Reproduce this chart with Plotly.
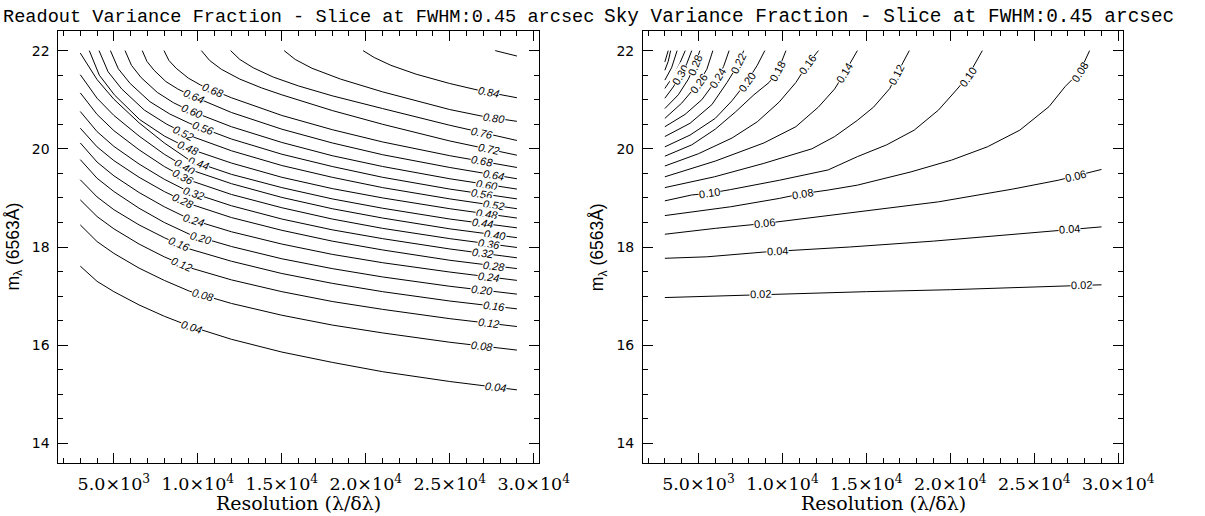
import math
import numpy as np
import plotly.graph_objects as go

# ---------------- axes ----------------
X_RANGE = [1700, 30300]
Y_RANGE = [13.6, 22.4]
X_TICKS = [5000, 10000, 15000, 20000, 25000, 30000]
X_TICKTEXT = ["5.0×10<sup>3</sup>", "1.0×10<sup>4</sup>", "1.5×10<sup>4</sup>",
              "2.0×10<sup>4</sup>", "2.5×10<sup>4</sup>", "3.0×10<sup>4</sup>"]
Y_TICKS = [14, 16, 18, 20, 22]
Y_TICKTEXT = ["14", "16", "18", "20", "22"]

TITLE_LEFT = "Readout Variance Fraction - Slice at FWHM:0.45 arcsec"
TITLE_RIGHT = "Sky Variance Fraction - Slice at FWHM:0.45 arcsec"
XTITLE = "Resolution (λ/δλ)"
YTITLE = "m<sub>λ</sub> (6563Å)"

# ---------------- readout variance fraction (left) ----------------
RO_X_EDGE = [3000, 4000, 5000, 6500, 8000, 9500, 12000, 15000, 18000, 21000, 25000, 29000]
RO_Y_004 = [17.61, 17.30, 17.09, 16.82, 16.59, 16.39, 16.12, 15.86, 15.65, 15.46, 15.26, 15.09]
RO_Y_008 = [18.45, 18.11, 17.87, 17.57, 17.32, 17.10, 16.85, 16.61, 16.41, 16.25, 16.06, 15.90]
RO_Y_012 = [18.96, 18.62, 18.37, 18.06, 17.80, 17.58, 17.33, 17.09, 16.89, 16.73, 16.54, 16.38]
RO_Y_016 = [19.37, 19.02, 18.76, 18.45, 18.19, 17.96, 17.71, 17.46, 17.26, 17.09, 16.90, 16.74]
RO_Y_020 = [19.78, 19.40, 19.13, 18.79, 18.50, 18.26, 18.01, 17.76, 17.56, 17.39, 17.20, 17.04]
RO_Y_024 = [20.12, 19.73, 19.45, 19.11, 18.82, 18.57, 18.31, 18.06, 17.85, 17.68, 17.49, 17.32]
RO_Y_028 = [20.42, 20.04, 19.76, 19.42, 19.13, 18.88, 18.60, 18.34, 18.12, 17.94, 17.73, 17.56]
RO_Y_032 = [20.76, 20.35, 20.05, 19.69, 19.38, 19.12, 18.84, 18.57, 18.35, 18.17, 17.96, 17.78]
RO_Y_036 = [21.14, 20.70, 20.37, 19.98, 19.64, 19.36, 19.07, 18.80, 18.57, 18.38, 18.17, 17.99]
RO_Y_040 = [21.51, 21.03, 20.68, 20.26, 19.89, 19.58, 19.29, 19.01, 18.78, 18.59, 18.37, 18.19]
RO_Y_044 = [21.95, 21.41, 21.01, 20.53, 20.12, 19.77, 19.48, 19.21, 18.98, 18.79, 18.57, 18.39]

RO_X_048 = [3537, 4133, 5028, 6519, 8009, 9500, 12000, 15000, 18000, 21000, 25000, 29000]
RO_Y_048 = [22.0, 21.50, 21.10, 20.60, 20.26, 20.00, 19.71, 19.42, 19.19, 19.00, 18.78, 18.59]
RO_X_052 = [4117, 4655, 5463, 6809, 8155, 9500, 12000, 15000, 18000, 21000, 25000, 29000]
RO_Y_052 = [22.0, 21.57, 21.22, 20.79, 20.50, 20.27, 19.96, 19.66, 19.42, 19.21, 18.98, 18.78]
RO_X_056 = [4794, 5265, 5971, 7147, 8324, 9500, 12000, 15000, 18000, 21000, 25000, 29000]
RO_Y_056 = [22.0, 21.63, 21.33, 20.96, 20.71, 20.52, 20.20, 19.89, 19.64, 19.42, 19.18, 18.98]
RO_X_060 = [5665, 6049, 6624, 7583, 8541, 9500, 12000, 15000, 18000, 21000, 25000, 29000]
RO_Y_060 = [22.0, 21.70, 21.45, 21.15, 20.94, 20.78, 20.45, 20.13, 19.86, 19.64, 19.39, 19.18]
RO_X_064 = [6690, 6971, 7393, 8095, 8798, 9500, 12000, 15000, 18000, 21000, 25000, 29000]
RO_Y_064 = [22.0, 21.78, 21.60, 21.37, 21.22, 21.10, 20.74, 20.40, 20.12, 19.88, 19.62, 19.39]
RO_X_068 = [7985, 8275, 8710, 9434, 10158, 10883, 12000, 15000, 18000, 21000, 25000, 29000]
RO_Y_068 = [22.0, 21.80, 21.64, 21.44, 21.30, 21.20, 21.04, 20.68, 20.39, 20.14, 19.86, 19.62]
RO_X_072 = [10210, 10700, 11400, 12500, 13800, 15000, 18000, 21000, 25000, 29000]
RO_Y_072 = [22.0, 21.80, 21.62, 21.42, 21.24, 21.10, 20.78, 20.50, 20.16, 19.87]
RO_X_076 = [11950, 12500, 13300, 14500, 16000, 18000, 21000, 25000, 29000]
RO_Y_076 = [22.0, 21.82, 21.65, 21.46, 21.28, 21.08, 20.82, 20.48, 20.17]
RO_X_080 = [15140, 15800, 16800, 18500, 21000, 25000, 27000, 29000]
RO_Y_080 = [22.0, 21.82, 21.64, 21.42, 21.16, 20.80, 20.66, 20.56]
RO_X_084 = [19840, 20500, 21500, 23000, 25000, 27000, 29000]
RO_Y_084 = [22.0, 21.86, 21.70, 21.52, 21.33, 21.17, 21.04]
RO_X_088 = [27706, 29000]
RO_Y_088 = [22.0, 21.89]

RO_LEVELS = [0.04, 0.08, 0.12, 0.16, 0.20, 0.24, 0.28, 0.32, 0.36, 0.40, 0.44,
             0.48, 0.52, 0.56, 0.60, 0.64, 0.68, 0.72, 0.76, 0.80, 0.84, 0.88]
RO_XS = [RO_X_EDGE] * 11 + [RO_X_048, RO_X_052, RO_X_056, RO_X_060, RO_X_064, RO_X_068,
                            RO_X_072, RO_X_076, RO_X_080, RO_X_084, RO_X_088]
RO_YS = [RO_Y_004, RO_Y_008, RO_Y_012, RO_Y_016, RO_Y_020, RO_Y_024, RO_Y_028, RO_Y_032,
         RO_Y_036, RO_Y_040, RO_Y_044, RO_Y_048, RO_Y_052, RO_Y_056, RO_Y_060, RO_Y_064,
         RO_Y_068, RO_Y_072, RO_Y_076, RO_Y_080, RO_Y_084, RO_Y_088]
# label positions (x) : middle and right-hand labels
RO_LABEL_MID = {0.68: 10883, 0.64: 9723, 0.60: 9630, 0.56: 10303, 0.52: 9143, 0.48: 9433,
                0.44: 10013, 0.40: 9241, 0.36: 9143, 0.32: 9723, 0.28: 9143, 0.24: 9723,
                0.20: 10210, 0.16: 8893, 0.12: 9009, 0.08: 10303, 0.04: 9647}
RO_LABEL_RIGHT = {0.84: 27322, 0.80: 27612, 0.76: 26934, 0.72: 27322, 0.68: 26934,
                  0.64: 27612, 0.60: 27224, 0.56: 26934, 0.52: 27612, 0.48: 27224,
                  0.44: 26934, 0.40: 27704, 0.36: 27322, 0.32: 26934, 0.28: 27612,
                  0.24: 27322, 0.20: 26934, 0.16: 27612, 0.12: 27322, 0.08: 26934,
                  0.04: 27704}

# ---------------- sky variance fraction (right) ----------------
SK_X_002 = [3000, 6000, 10000, 15000, 20000, 25000, 29000]
SK_Y_002 = [16.97, 17.00, 17.05, 17.09, 17.13, 17.19, 17.23]
SK_X_004 = [3000, 5500, 9000, 14000, 19000, 24000, 29000]
SK_Y_004 = [17.77, 17.80, 17.90, 18.00, 18.12, 18.27, 18.41]
SK_X_006 = [3000, 6000, 8950, 14462, 19294, 23713, 26422, 29000]
SK_Y_006 = [18.26, 18.38, 18.48, 18.72, 18.92, 19.18, 19.36, 19.58]
SK_X_008 = [3000, 6921, 9821, 11080, 12722, 14462, 17653, 20072, 22201, 24135, 25876, 26840, 27710, 28290]
SK_Y_008 = [18.64, 18.82, 18.99, 19.08, 19.16, 19.26, 19.53, 19.77, 20.04, 20.38, 20.86, 21.27, 21.57, 22.0]
SK_X_010 = [3000, 4600, 5568, 6921, 9821, 12722, 14462, 16202, 17846, 19294, 20361, 21034, 21904]
SK_Y_010 = [18.94, 19.06, 19.09, 19.17, 19.36, 19.57, 19.84, 20.08, 20.38, 20.79, 21.20, 21.47, 22.0]
SK_X_012 = [3000, 5954, 8854, 11754, 13111, 14462, 15429, 16396, 16782, 17556]
SK_Y_012 = [19.21, 19.43, 19.70, 20.00, 20.25, 20.58, 20.85, 21.23, 21.50, 22.0]
SK_X_014 = [3000, 6000, 8900, 10800, 12142, 13111, 13691, 14462]
SK_Y_014 = [19.43, 19.75, 20.12, 20.45, 20.85, 21.22, 21.54, 22.0]
SK_X_016 = [3000, 5000, 7000, 8500, 9800, 10800, 11470, 12142]
SK_Y_016 = [19.65, 19.90, 20.22, 20.55, 20.95, 21.35, 21.71, 22.0]
SK_X_018 = [3000, 4600, 6000, 7200, 8300, 9200, 9726, 10210]
SK_Y_018 = [19.85, 20.08, 20.40, 20.75, 21.10, 21.35, 21.58, 22.0]
SK_X_020 = [3000, 4500, 6000, 7000, 7889, 8500, 8951]
SK_Y_020 = [20.04, 20.28, 20.62, 20.98, 21.37, 21.70, 22.0]
SK_X_022 = [3000, 4500, 5800, 6700, 7405, 7695]
SK_Y_022 = [20.25, 20.52, 20.90, 21.35, 21.74, 22.0]
SK_X_024 = [3000, 4200, 5200, 6148, 6500, 6825]
SK_Y_024 = [20.45, 20.70, 21.00, 21.44, 21.68, 22.0]
SK_X_026 = [3000, 4000, 4988, 5500, 5858]
SK_Y_026 = [20.62, 20.93, 21.33, 21.62, 22.0]
SK_X_028 = [3000, 3800, 4400, 4794, 5085]
SK_Y_028 = [20.82, 21.10, 21.42, 21.71, 22.0]
SK_X_030 = [3000, 3500, 3924, 4300, 4601]
SK_Y_030 = [21.03, 21.26, 21.50, 21.73, 22.0]
SK_X_032 = [3000, 3500, 3900, 4214]
SK_Y_032 = [21.23, 21.48, 21.75, 22.0]
SK_X_034 = [3000, 3400, 3731]
SK_Y_034 = [21.40, 21.65, 22.0]
SK_X_036 = [3000, 3200, 3344]
SK_Y_036 = [21.60, 21.78, 22.0]
SK_X_038 = [3000, 3100, 3200]
SK_Y_038 = [21.77, 21.88, 22.0]

SK_LEVELS = [0.02, 0.04, 0.06, 0.08, 0.10, 0.12, 0.14, 0.16, 0.18, 0.20,
             0.22, 0.24, 0.26, 0.28, 0.30, 0.32, 0.34, 0.36, 0.38]
SK_XS = [SK_X_002, SK_X_004, SK_X_006, SK_X_008, SK_X_010, SK_X_012, SK_X_014, SK_X_016,
         SK_X_018, SK_X_020, SK_X_022, SK_X_024, SK_X_026, SK_X_028, SK_X_030, SK_X_032,
         SK_X_034, SK_X_036, SK_X_038]
SK_YS = [SK_Y_002, SK_Y_004, SK_Y_006, SK_Y_008, SK_Y_010, SK_Y_012, SK_Y_014, SK_Y_016,
         SK_Y_018, SK_Y_020, SK_Y_022, SK_Y_024, SK_Y_026, SK_Y_028, SK_Y_030, SK_Y_032,
         SK_Y_034, SK_Y_036, SK_Y_038]
SK_LABELS = [(0.30, 3924), (0.28, 4794), (0.26, 4988), (0.24, 6148), (0.22, 7405),
             (0.20, 7889), (0.18, 9726), (0.16, 11470), (0.14, 13691), (0.12, 16782),
             (0.10, 21034), (0.10, 5640), (0.08, 27710), (0.08, 11170), (0.06, 8960),
             (0.06, 27450), (0.04, 9690), (0.04, 27110), (0.02, 8670), (0.02, 27790)]

# ---------------- layout geometry (pixels) ----------------
W, H = 1205, 516
LEFT_PX = (60, 553)
RIGHT_PX = (660, 1153)
TOP_PX, BOT_PX = 31, 463

fig = go.Figure()

def add_lines(levels, xs, ys, xa, ya):
    for lev, x, y in zip(levels, xs, ys):
        fig.add_trace(go.Scatter(x=x, y=y, mode="lines", xaxis=xa, yaxis=ya,
                                 line=dict(color="black", width=1), hoverinfo="skip",
                                 showlegend=False))

add_lines(RO_LEVELS, RO_XS, RO_YS, "x", "y")
add_lines(SK_LEVELS, SK_XS, SK_YS, "x2", "y2")

kx = (LEFT_PX[1] - LEFT_PX[0]) / (X_RANGE[1] - X_RANGE[0])
ky = (BOT_PX - TOP_PX) / (Y_RANGE[1] - Y_RANGE[0])

annotations = []

def label(lev, xl, xs, ys, xref, yref, italic):
    xs = np.asarray(xs, float)
    ys = np.asarray(ys, float)
    yl = float(np.interp(xl, xs, ys))
    d = 250.0
    xa_, xb_ = max(xl - d, xs[0]), min(xl + d, xs[-1])
    ya_, yb_ = np.interp(xa_, xs, ys), np.interp(xb_, xs, ys)
    ang = math.degrees(math.atan2(-(yb_ - ya_) * ky, (xb_ - xa_) * kx))
    font = dict(family="Liberation Sans", size=11, color="black")
    if italic:
        font["style"] = "italic"
    annotations.append(dict(x=xl, y=yl, xref=xref, yref=yref, text=f"{lev:.2f}",
                            showarrow=False, textangle=ang, font=font,
                            bgcolor="white", borderpad=0, xanchor="center",
                            yanchor="middle"))

ro_map = {round(l, 2): (x, y) for l, x, y in zip(RO_LEVELS, RO_XS, RO_YS)}
for lev, xl in RO_LABEL_MID.items():
    label(lev, xl, *ro_map[round(lev, 2)], "x", "y", True)
for lev, xl in RO_LABEL_RIGHT.items():
    label(lev, xl, *ro_map[round(lev, 2)], "x", "y", True)
sk_map = {round(l, 2): (x, y) for l, x, y in zip(SK_LEVELS, SK_XS, SK_YS)}
for lev, xl in SK_LABELS:
    label(lev, xl, *sk_map[round(lev, 2)], "x2", "y2", False)

# titles
def px(xp):
    return xp / W

def py(yp):
    return 1 - yp / H

annotations.append(dict(x=px(306), y=py(17), xref="paper", yref="paper", text=TITLE_LEFT,
                        showarrow=False, xanchor="center", yanchor="middle",
                        font=dict(family="Liberation Mono", size=18.6, color="black")))
annotations.append(dict(x=px(912), y=py(17), xref="paper", yref="paper", text=TITLE_RIGHT,
                        showarrow=False, xanchor="center", yanchor="middle",
                        font=dict(family="Liberation Mono", size=19.4, color="black")))

for (l, r) in (LEFT_PX, RIGHT_PX):
    cx = px((l + r) / 2)
    annotations.append(dict(x=cx, y=py(503), xref="paper", yref="paper", text=XTITLE,
                            showarrow=False, xanchor="center", yanchor="middle",
                            font=dict(family="DejaVu Serif", size=19, color="black")))
    annotations.append(dict(x=px(l - 45), y=py((TOP_PX + BOT_PX) / 2), xref="paper",
                            yref="paper", text=YTITLE, showarrow=False, textangle=-90,
                            xanchor="center", yanchor="middle",
                            font=dict(family="Liberation Sans", size=17.5, color="black")))

xaxis_common = dict(range=X_RANGE, tickmode="array", tickvals=X_TICKS, ticktext=X_TICKTEXT,
                    ticks="inside", ticklen=10, tickwidth=1, tickcolor="black",
                    showline=True, linecolor="black", linewidth=1, mirror="allticks",
                    showgrid=False, zeroline=False, ticklabelstandoff=5,
                    tickfont=dict(family="DejaVu Serif", size=17.5, color="black"),
                    minor=dict(tickmode="linear", tick0=0, dtick=1000, ticks="inside",
                               ticklen=5, tickcolor="black", tickwidth=1, showgrid=False))
yaxis_common = dict(range=Y_RANGE, tickmode="array", tickvals=Y_TICKS, ticktext=Y_TICKTEXT,
                    ticks="inside", ticklen=10, tickwidth=1, tickcolor="black",
                    showline=True, linecolor="black", linewidth=1, mirror="allticks",
                    showgrid=False, zeroline=False, ticklabelstandoff=5,
                    tickfont=dict(family="DejaVu Sans", size=14, color="black"),
                    minor=dict(tickmode="linear", tick0=0, dtick=0.5, ticks="inside",
                               ticklen=5, tickcolor="black", tickwidth=1, showgrid=False))

ydom = [py(BOT_PX), py(TOP_PX)]
fig.update_layout(
    width=W, height=H, margin=dict(l=0, r=0, t=0, b=0),
    paper_bgcolor="white", plot_bgcolor="white", showlegend=False,
    xaxis=dict(domain=[px(LEFT_PX[0]), px(LEFT_PX[1])], anchor="y", **xaxis_common),
    yaxis=dict(domain=ydom, anchor="x", **yaxis_common),
    xaxis2=dict(domain=[px(RIGHT_PX[0]), px(RIGHT_PX[1])], anchor="y2", **xaxis_common),
    yaxis2=dict(domain=ydom, anchor="x2", **yaxis_common),
    annotations=annotations,
)

fig.write_html("out.html")
